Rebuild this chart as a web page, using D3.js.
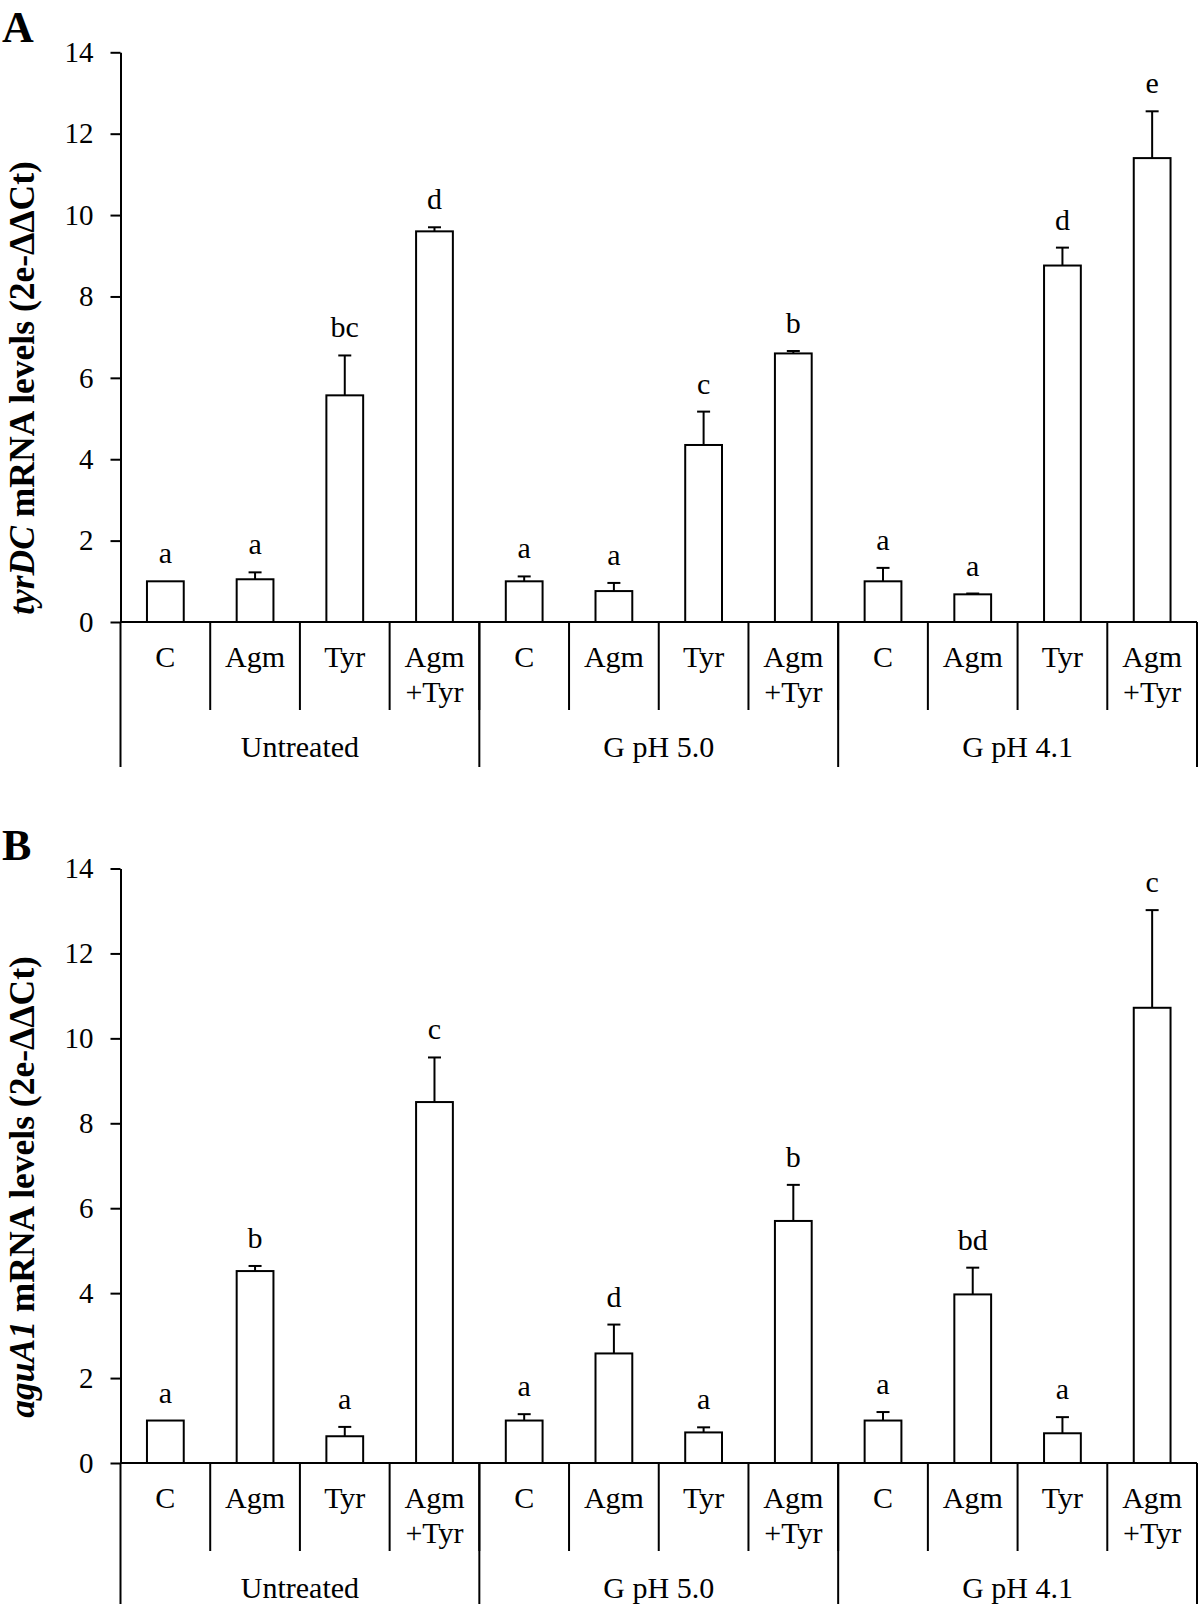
<!DOCTYPE html>
<html>
<head>
<meta charset="utf-8">
<script src="https://cdn.jsdelivr.net/npm/d3@7"></script>
<style>
  body { margin: 0; background: #fff; }
  svg text { font-family: "Liberation Serif", "Times New Roman", serif; fill: #000; }
</style>
</head>
<body>
<svg id="chart" width="1200" height="1604"></svg>
<script>
// data
var groups = ["Untreated", "G pH 5.0", "G pH 4.1"];
var treatments = ["C", "Agm", "Tyr", "Agm|+Tyr"];
var yTicks = [0, 2, 4, 6, 8, 10, 12, 14];

var tyrdcMean = [1.0, 1.05, 5.57, 9.6, 1.0, 0.76, 4.35, 6.6, 1.0, 0.68, 8.76, 11.4];
var tyrdcErr  = [0, 0.17, 0.98, 0.1, 0.12, 0.2, 0.82, 0.06, 0.33, 0.02, 0.44, 1.15];
var tyrdcSig  = ["a", "a", "bc", "d", "a", "a", "c", "b", "a", "a", "d", "e"];

var aguMean = [1.0, 4.52, 0.63, 8.5, 1.0, 2.58, 0.72, 5.7, 1.0, 3.97, 0.7, 10.72];
var aguErr  = [0, 0.12, 0.22, 1.05, 0.15, 0.68, 0.12, 0.85, 0.2, 0.63, 0.38, 2.3];
var aguSig  = ["a", "b", "a", "c", "a", "d", "a", "b", "a", "bd", "a", "c"];

var svg = d3.select("#chart");
var x0 = 120.5, x1 = 1197;
var serif = "Liberation Serif, Times New Roman, serif";

function drawPanel(p) {
  var g = svg.append("g");
  var cats = d3.range(groups.length * treatments.length);

  var y = d3.scaleLinear().domain([0, 14]).range([p.zero, p.top]);
  var xCat = d3.scaleBand().domain(cats).range([x0, x1]);
  var xBar = d3.scaleBand().domain(cats).range([x0, x1]).paddingInner(0.59).paddingOuter(0.295);
  var xGrp = d3.scaleBand().domain(groups).range([x0, x1]);

  // panel letter
  g.append("text").attr("x", 2).attr("y", p.letterY)
    .style("font-size", "44px").style("font-weight", "bold").text(p.letter);

  // y axis
  var ya = g.append("g").attr("transform", "translate(" + x0 + ",0)")
    .call(d3.axisLeft(y).tickValues(yTicks).tickSize(10).tickSizeOuter(0).tickPadding(17));
  ya.attr("font-family", serif).attr("font-size", 29);
  ya.select(".domain").attr("stroke", "#000").attr("stroke-width", 2);
  ya.selectAll(".tick line").attr("stroke", "#000").attr("stroke-width", 2);
  ya.selectAll(".tick text").attr("fill", "#000")
    .style("font-family", serif).style("font-size", "29px");

  // y title
  var tt = g.append("text")
    .attr("transform", "translate(" + 34 + "," + p.titleY + ") rotate(-90)")
    .attr("text-anchor", "middle")
    .style("font-size", "35.5px").style("font-weight", "bold");
  tt.append("tspan").style("font-style", "italic").text(p.gene);
  tt.append("tspan").text(" mRNA levels (2e-\u0394\u0394Ct)");

  // bars
  g.selectAll("rect.bar").data(cats).enter().append("rect")
    .attr("class", "bar")
    .attr("x", function(i) { return xBar(i); })
    .attr("width", xBar.bandwidth())
    .attr("y", function(i) { return y(p.mean[i]); })
    .attr("height", function(i) { return p.zero - y(p.mean[i]); })
    .attr("fill", "#fff").attr("stroke", "#000").attr("stroke-width", 2);

  // error bars
  var eb = g.selectAll("g.err").data(cats.filter(function(i) { return p.err[i] > 0; }))
    .enter().append("g").attr("class", "err");
  eb.append("line")
    .attr("x1", function(i) { return xCat(i) + xCat.bandwidth() / 2; })
    .attr("x2", function(i) { return xCat(i) + xCat.bandwidth() / 2; })
    .attr("y1", function(i) { return y(p.mean[i]); })
    .attr("y2", function(i) { return y(p.mean[i] + p.err[i]); })
    .attr("stroke", "#000").attr("stroke-width", 2);
  eb.append("line")
    .attr("x1", function(i) { return xCat(i) + xCat.bandwidth() / 2 - 6.5; })
    .attr("x2", function(i) { return xCat(i) + xCat.bandwidth() / 2 + 6.5; })
    .attr("y1", function(i) { return y(p.mean[i] + p.err[i]); })
    .attr("y2", function(i) { return y(p.mean[i] + p.err[i]); })
    .attr("stroke", "#000").attr("stroke-width", 2);

  // significance letters
  g.selectAll("text.sig").data(cats).enter().append("text")
    .attr("class", "sig")
    .attr("x", function(i) { return xCat(i) + xCat.bandwidth() / 2; })
    .attr("y", function(i) { return y(p.mean[i] + p.err[i]) - 18; })
    .attr("text-anchor", "middle").style("font-size", "30px")
    .text(function(i) { return p.sig[i]; });

  // x axis line
  g.append("line").attr("x1", x0).attr("x2", x1).attr("y1", p.zero).attr("y2", p.zero)
    .attr("stroke", "#000").attr("stroke-width", 2);

  // category dividers and labels
  g.selectAll("line.cdiv").data(cats.slice(1)).enter().append("line")
    .attr("x1", function(i) { return xCat(i); }).attr("x2", function(i) { return xCat(i); })
    .attr("y1", p.zero).attr("y2", p.zero + 88)
    .attr("stroke", "#000").attr("stroke-width", 2);
  var cl = g.selectAll("text.cat").data(cats).enter().append("text")
    .attr("class", "cat").attr("text-anchor", "middle").style("font-size", "30px");
  cl.each(function(i) {
    var parts = treatments[i % treatments.length].split("|");
    var cx = xCat(i) + xCat.bandwidth() / 2;
    var t = d3.select(this);
    parts.forEach(function(s, k) {
      t.append("tspan").attr("x", cx).attr("y", p.zero + 45 + k * 35).text(s);
    });
  });

  // group dividers and labels
  var gEdges = groups.map(function(d) { return xGrp(d); }).concat([x1]);
  g.selectAll("line.gdiv").data(gEdges).enter().append("line")
    .attr("x1", function(d) { return d; }).attr("x2", function(d) { return d; })
    .attr("y1", p.zero).attr("y2", p.zero + 145)
    .attr("stroke", "#000").attr("stroke-width", 2);
  g.selectAll("text.grp").data(groups).enter().append("text")
    .attr("class", "grp")
    .attr("x", function(d) { return xGrp(d) + xGrp.bandwidth() / 2; })
    .attr("y", p.zero + 135)
    .attr("text-anchor", "middle").style("font-size", "30px")
    .text(function(d) { return d; });
}

drawPanel({ letter: "A", letterY: 42, top: 52.3, zero: 622, titleY: 388, gene: "tyrDC",
  mean: tyrdcMean, err: tyrdcErr, sig: tyrdcSig });
drawPanel({ letter: "B", letterY: 860, top: 868.5, zero: 1463, titleY: 1187, gene: "aguA1",
  mean: aguMean, err: aguErr, sig: aguSig });
</script>
</body>
</html>
